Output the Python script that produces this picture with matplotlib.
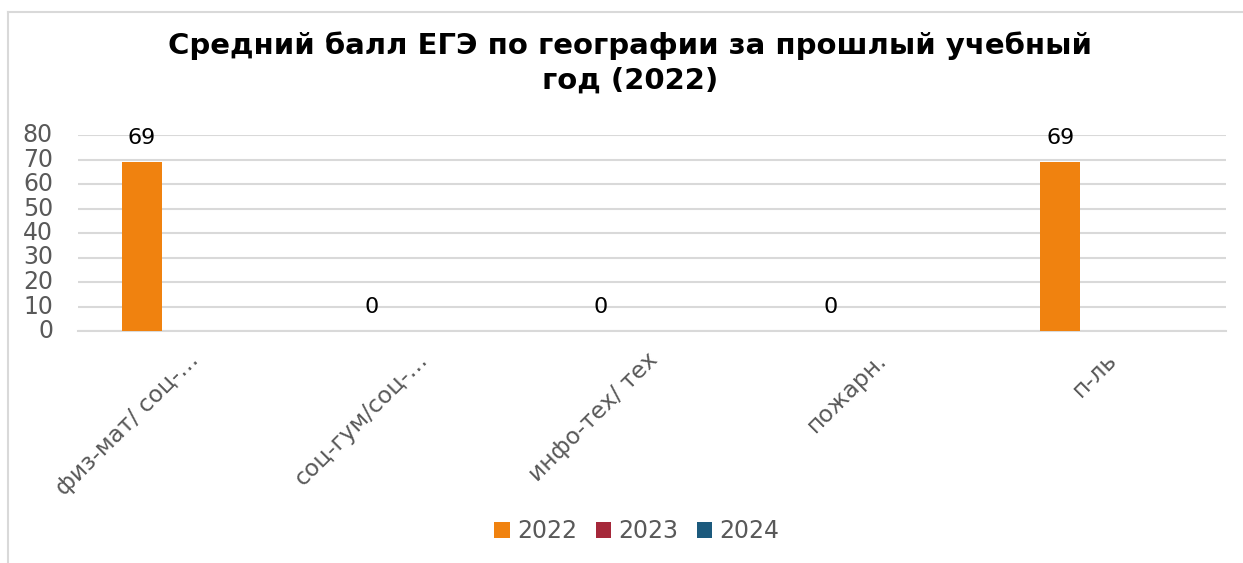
import matplotlib
matplotlib.use("Agg")
import matplotlib.pyplot as plt
from matplotlib.lines import Line2D
from matplotlib.patches import Patch
from matplotlib.transforms import ScaledTranslation
import numpy as np

plt.rcParams['font.family'] = ['DejaVu Sans']

categories = ["физ-мат/ соц-…", "соц-гум/соц-…", "инфо-тех/ тех", "пожарн.", "п-ль"]
series_names = ["2022", "2023", "2024"]
values_2022 = [69, 0, 0, 0, 69]
values_2023 = [0, 0, 0, 0, 0]
values_2024 = [0, 0, 0, 0, 0]
colors = ["#F0820F", "#A5283A", "#1C5A7D"]
title = "Средний балл ЕГЭ по географии за прошлый учебный\nгод (2022)"

W, H = 1243, 563
fig = plt.figure(figsize=(W / 100, H / 100), dpi=100)
fig.patch.set_facecolor("white")

ax = fig.add_axes([78 / W, 1 - 331 / H, (1226 - 78) / W, (331 - 135) / H])
x = np.arange(len(categories))
offsets = [-0.222, 0.0, 0.222]
bw = 0.174
all_vals = [values_2022, values_2023, values_2024]
bars0 = None
for i, (vals, col) in enumerate(zip(all_vals, colors)):
    b = ax.bar(x + offsets[i], vals, width=bw, color=col, linewidth=0, zorder=3)
    if i == 0:
        bars0 = b

for rect, v in zip(bars0, values_2022):
    ax.annotate(str(v), (rect.get_x() + rect.get_width() / 2, v),
                xytext=(0, 10), textcoords="offset points",
                ha="center", va="bottom", fontsize=16, color="black", zorder=5)

ax.set_xlim(-0.5, len(categories) - 0.5)
ax.set_ylim(0, 80)
ax.set_yticks(range(0, 81, 10))
ax.yaxis.grid(True, color="#D9D9D9", linewidth=1.5, zorder=0)
ax.set_axisbelow(True)
for s in ["left", "right", "top"]:
    ax.spines[s].set_visible(False)
ax.spines["bottom"].set_color("#D9D9D9")
ax.spines["bottom"].set_linewidth(1.5)
ax.tick_params(axis="y", length=0, pad=18, labelsize=17, labelcolor="#595959")
ax.tick_params(axis="x", length=0, pad=18)
ax.set_xticks(x)
ax.set_xticklabels(categories, rotation=45, ha="right", va="center",
                   rotation_mode="anchor", fontsize=16.8, color="#595959")
shift = ScaledTranslation(2 / 100, 0, fig.dpi_scale_trans)
for lbl in ax.get_xticklabels():
    lbl.set_transform(lbl.get_transform() + shift)
for lbl in ax.get_yticklabels():
    lbl.set_verticalalignment("center")

fig.text(630 / W, 1 - 63 / H, title, ha="center", va="center",
         fontsize=21, fontweight="bold", color="black", linespacing=1.3)

handles = [Patch(facecolor=c, edgecolor="none") for c in colors]
leg = fig.legend(handles, series_names, loc="center", bbox_to_anchor=(637 / W, 1 - 531 / H),
                 ncol=3, frameon=False, fontsize=17, handlelength=0.65, handleheight=0.65,
                 handletextpad=0.3, columnspacing=0.8)
for t in leg.get_texts():
    t.set_color("#595959")

# chart frame
fig.add_artist(Line2D([7.5 / W, 7.5 / W], [0, 1 - 11.5 / H], transform=fig.transFigure,
                      color="#D9D9D9", linewidth=1.5))
fig.add_artist(Line2D([7.5 / W, 1], [1 - 11.5 / H, 1 - 11.5 / H], transform=fig.transFigure,
                      color="#D9D9D9", linewidth=1.5))

fig.savefig("out.png", dpi=100, facecolor="white")
